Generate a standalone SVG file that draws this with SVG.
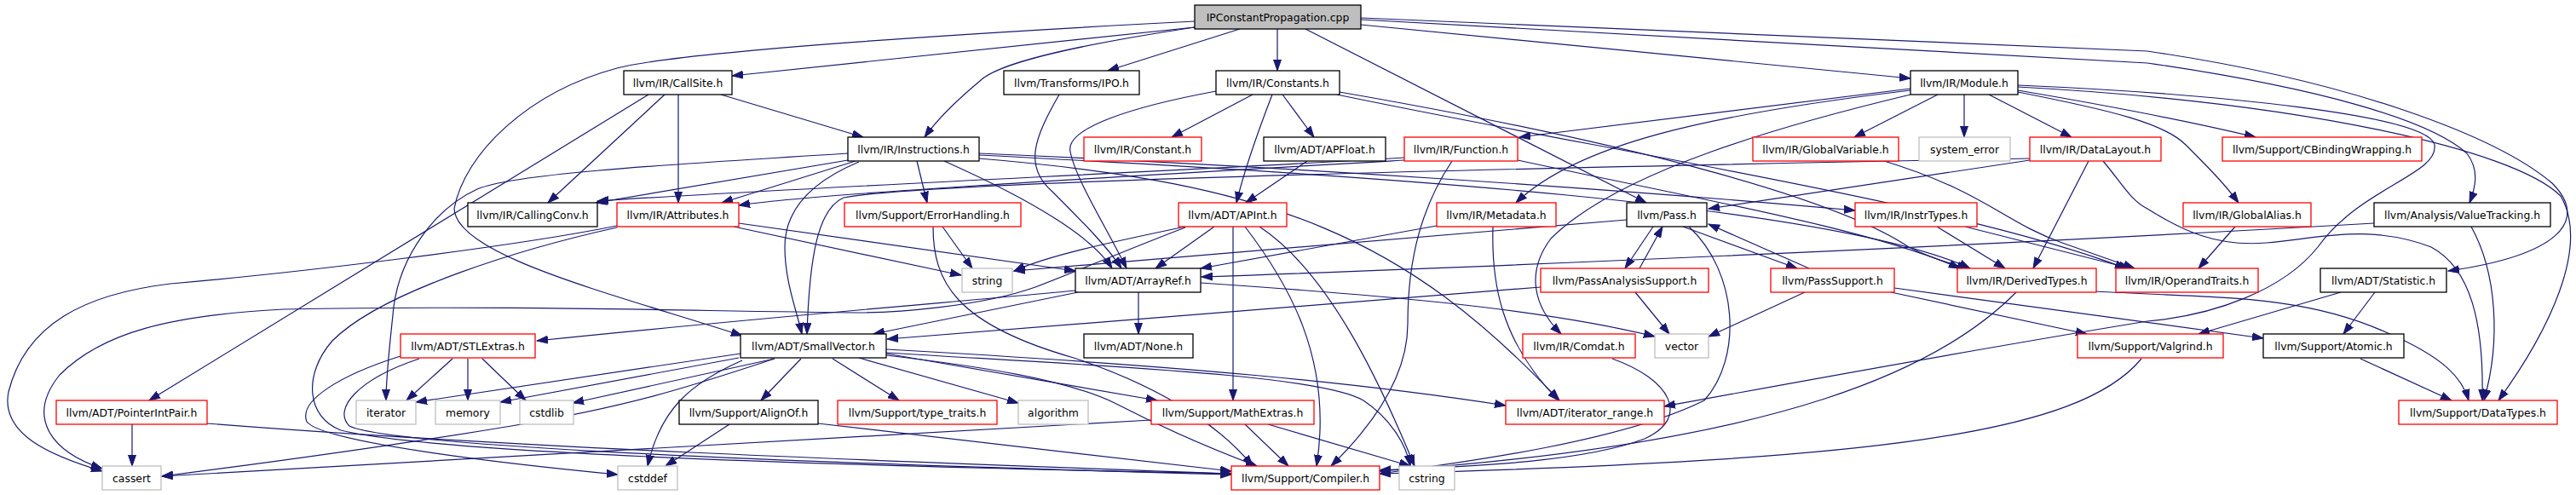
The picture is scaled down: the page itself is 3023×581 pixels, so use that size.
<svg xmlns="http://www.w3.org/2000/svg" width="3023" height="581" viewBox="0 0 3023 581">
<defs>
<marker id="ah" markerWidth="14" markerHeight="10" refX="13" refY="5" orient="auto" markerUnits="userSpaceOnUse"><path d="M0,0.5 L13,5 L0,9.5 z" fill="#191970" stroke="#191970" stroke-width="1"/></marker>
<style>
.node rect{fill:#ffffff;stroke-width:1.3}
.blk rect{stroke:#000000}
.red rect{stroke:#ff0000}
.sys rect{stroke:#bfbfbf}
.root rect{fill:#bfbfbf;stroke:#000000}
.node text{font-family:"DejaVu Sans",sans-serif;font-size:12.4px;fill:#000000;text-anchor:middle}
#edges path{fill:none;stroke:#191970;stroke-width:1.2;marker-end:url(#ah)}
</style>
</defs>
<rect width="3023" height="581" fill="#ffffff"/>
<g id="edges">
<path d="M1402,32 L859,89"/>
<path d="M1402,25 C1150,38 800,60 724,80 C620,108 545,180 533,245 C535,300 720,345 871,394"/>
<path d="M1402,32 C1250,55 1170,75 1150,95 C1120,120 1100,140 1085,161"/>
<path d="M1455,34 L1300,83"/>
<path d="M1499,34 L1499,83"/>
<path d="M1532,34 L1932,238"/>
<path d="M1597,29 L2242,92"/>
<path d="M1597,21 L2520,60 C2760,95 2930,160 2995,215 C3040,260 3000,300 2873,318"/>
<path d="M1597,23 L2520,74 C2720,103 2850,140 2895,180 C2910,200 2905,220 2898,238"/>
<path d="M780,111 L643,238"/>
<path d="M796,111 L796,238"/>
<path d="M846,111 L1013,161"/>
<path d="M761,111 L175,470"/>
<path d="M1243,111 C1215,160 1200,195 1235,225 C1270,260 1300,290 1316,315"/>
<path d="M1470,111 L1375,161"/>
<path d="M1505,111 L1542,161"/>
<path d="M1493,111 C1478,150 1460,200 1451,238"/>
<path d="M1427,107 C1330,125 1250,150 1256,178 C1262,210 1300,270 1322,315"/>
<path d="M1572,108 C1900,165 2150,230 2240,290 C2270,305 2295,311 2310,315"/>
<path d="M1569,111 C1900,180 2300,240 2495,315"/>
<path d="M1534,189 L1462,238"/>
<path d="M2242,104 L1783,161"/>
<path d="M2242,106 C2000,135 1850,170 1779,238"/>
<path d="M2242,111 C2100,145 1900,200 1820,280 C1790,320 1800,360 1832,392"/>
<path d="M2274,111 L2176,161"/>
<path d="M2305,111 L2305,161"/>
<path d="M2334,111 L2431,161"/>
<path d="M2368,106 C2480,125 2580,145 2647,161"/>
<path d="M2368,108 C2480,130 2540,145 2565,170 C2590,195 2610,215 2627,238"/>
<path d="M2368,100 C2600,110 2850,135 2857,170 C2862,205 2770,220 2720,290 C2680,340 2600,370 2520,377 C2300,413 2100,450 1953,477"/>
<path d="M2368,102 C2700,120 2950,175 3005,230 C3040,290 2990,390 2932,470"/>
<path d="M995,180 C750,195 600,205 560,222 C510,245 470,300 462,360 C458,400 453,440 453,470"/>
<path d="M995,188 L699,238"/>
<path d="M1004,189 L847,238"/>
<path d="M1008,190 C960,210 921,240 921,290 C921,330 935,365 941,392"/>
<path d="M1076,189 L1088,238"/>
<path d="M1108,189 C1200,230 1280,275 1305,315"/>
<path d="M1149,180 C1500,195 1900,222 2177,247"/>
<path d="M1149,182 C1600,205 2150,240 2312,315"/>
<path d="M1149,186 C1500,215 1650,280 1830,470"/>
<path d="M1648,185 C1400,200 900,222 701,236"/>
<path d="M1648,188 C1300,208 950,228 867,241"/>
<path d="M1704,189 C1670,240 1652,300 1652,380 C1652,450 1600,510 1562,547"/>
<path d="M1781,188 C2000,235 2200,270 2300,315"/>
<path d="M2382,188 L2005,245"/>
<path d="M2382,186 C2000,193 1100,210 990,232 C960,245 950,300 947,392"/>
<path d="M2451,189 L2386,315"/>
<path d="M2468,189 C2490,215 2500,235 2520,245 C2560,270 2600,290 2660,285 C2720,280 2780,262 2853,290 C2900,315 2915,380 2913,470"/>
<path d="M2208,188 C2330,225 2350,260 2420,285 L2505,315"/>
<path d="M2273,266 L2353,315"/>
<path d="M2306,266 L2500,315"/>
<path d="M2623,266 L2580,315"/>
<path d="M1909,258 L1190,318"/>
<path d="M1940,266 L1907,315"/>
<path d="M1975,266 L2109,315"/>
<path d="M1982,266 C2040,320 2045,420 2000,470 C1900,520 1700,545 1619,556"/>
<path d="M1924,315 L1951,266"/>
<path d="M1919,343 L1959,392"/>
<path d="M1808,337 L1041,398"/>
<path d="M2123,315 L2005,263"/>
<path d="M2118,343 L2005,395"/>
<path d="M2219,343 L2449,392"/>
<path d="M2223,338 L2656,397"/>
<path d="M1686,265 L1409,315"/>
<path d="M1752,266 C1750,330 1760,400 1829,470"/>
<path d="M1892,421 C1960,445 1985,490 1930,515 C1850,545 1700,548 1619,552"/>
<path d="M2786,262 C2300,290 1700,315 1410,325"/>
<path d="M2900,266 C2930,320 2935,400 2915,470"/>
<path d="M2747,343 L2580,392"/>
<path d="M2787,343 L2750,392"/>
<path d="M2770,421 L2877,470"/>
<path d="M2513,421 C2440,510 2200,540 1619,556"/>
<path d="M2366,343 C2280,430 2100,520 1619,553"/>
<path d="M2459,342 C2600,350 2700,345 2800,390 C2870,420 2890,445 2897,470"/>
<path d="M1336,343 L1336,392"/>
<path d="M1265,343 L1025,392"/>
<path d="M1262,341 C1150,352 900,372 630,400"/>
<path d="M1409,332 C1600,345 1800,360 1942,395"/>
<path d="M1391,266 C1300,285 1230,300 1190,318"/>
<path d="M1391,267 C1330,290 1260,320 1215,337 C1150,360 1050,367 1008,367 C800,365 600,358 333,363 C200,370 120,390 70,440 C30,490 60,530 120,550"/>
<path d="M1425,266 L1356,315"/>
<path d="M1447,266 L1447,470"/>
<path d="M1461,266 C1510,330 1565,420 1545,547"/>
<path d="M1478,266 C1560,320 1620,450 1660,547"/>
<path d="M1106,266 L1141,315"/>
<path d="M1095,266 C1095,330 1120,380 1260,420 C1380,460 1440,510 1470,547"/>
<path d="M861,266 L1128,323"/>
<path d="M867,262 L1262,318"/>
<path d="M724,265 C600,290 350,320 200,333 C100,345 30,380 10,460 C0,510 60,535 120,553"/>
<path d="M724,267 C620,290 450,340 390,400 C355,440 360,490 400,505 C500,530 900,545 1445,556"/>
<path d="M869,415 L488,472"/>
<path d="M867,420 L587,472"/>
<path d="M909,421 L672,473"/>
<path d="M871,423 C810,450 775,480 760,547"/>
<path d="M940,421 L893,470"/>
<path d="M977,421 L1055,470"/>
<path d="M1008,420 L1195,473"/>
<path d="M1040,415 L1358,470"/>
<path d="M1040,417 C1150,430 1250,445 1308,473 C1370,505 1430,530 1475,547"/>
<path d="M1040,414 C1300,430 1550,440 1600,470 C1630,490 1650,520 1655,547"/>
<path d="M1040,410 C1400,430 1600,450 1767,476"/>
<path d="M909,421 C820,450 750,475 600,500 C450,525 300,545 190,559"/>
<path d="M1461,498 L1512,547"/>
<path d="M1351,493 L190,559"/>
<path d="M1488,498 L1655,547"/>
<path d="M856,498 L781,547"/>
<path d="M960,497 L1445,553"/>
<path d="M155,498 L155,547"/>
<path d="M243,497 C600,525 1000,540 1445,556"/>
<path d="M531,421 L477,470"/>
<path d="M549,421 L549,470"/>
<path d="M566,421 L617,470"/>
<path d="M470,418 C400,440 350,470 360,495 C380,520 600,545 725,557"/>
<path d="M492,421 C420,445 390,480 410,500 C450,520 800,540 1445,557"/>
</g>
<g id="n_cpp" class="node root"><rect x="1402" y="6" width="195" height="28"/><text x="1499.5" y="24.5">IPConstantPropagation.cpp</text></g>
<g id="n_callsite" class="node blk"><rect x="732" y="83" width="127" height="28"/><text x="795.5" y="101.5">llvm/IR/CallSite.h</text></g>
<g id="n_ipo" class="node blk"><rect x="1178" y="83" width="159" height="28"/><text x="1257.5" y="101.5">llvm/Transforms/IPO.h</text></g>
<g id="n_constants" class="node blk"><rect x="1427" y="83" width="145" height="28"/><text x="1499.5" y="101.5">llvm/IR/Constants.h</text></g>
<g id="n_module" class="node blk"><rect x="2242" y="83" width="126" height="28"/><text x="2305" y="101.5">llvm/IR/Module.h</text></g>
<g id="n_instructions" class="node blk"><rect x="995" y="161" width="154" height="28"/><text x="1072" y="179.5">llvm/IR/Instructions.h</text></g>
<g id="n_constant" class="node red"><rect x="1272" y="161" width="138" height="28"/><text x="1341" y="179.5">llvm/IR/Constant.h</text></g>
<g id="n_apfloat" class="node blk"><rect x="1483" y="161" width="143" height="28"/><text x="1554.5" y="179.5">llvm/ADT/APFloat.h</text></g>
<g id="n_function" class="node red"><rect x="1648" y="161" width="133" height="28"/><text x="1714.5" y="179.5">llvm/IR/Function.h</text></g>
<g id="n_globalvariable" class="node red"><rect x="2057" y="161" width="171" height="28"/><text x="2142.5" y="179.5">llvm/IR/GlobalVariable.h</text></g>
<g id="n_system_error" class="node sys"><rect x="2252" y="161" width="107" height="28"/><text x="2305.5" y="179.5">system_error</text></g>
<g id="n_datalayout" class="node red"><rect x="2382" y="161" width="154" height="28"/><text x="2459" y="179.5">llvm/IR/DataLayout.h</text></g>
<g id="n_cbinding" class="node red"><rect x="2608" y="161" width="234" height="28"/><text x="2725" y="179.5">llvm/Support/CBindingWrapping.h</text></g>
<g id="n_callingconv" class="node blk"><rect x="549" y="238" width="152" height="28"/><text x="625" y="256.5">llvm/IR/CallingConv.h</text></g>
<g id="n_attributes" class="node red"><rect x="724" y="238" width="143" height="28"/><text x="795.5" y="256.5">llvm/IR/Attributes.h</text></g>
<g id="n_errorhandling" class="node red"><rect x="991" y="238" width="207" height="28"/><text x="1094.5" y="256.5">llvm/Support/ErrorHandling.h</text></g>
<g id="n_apint" class="node red"><rect x="1383" y="238" width="127" height="28"/><text x="1446.5" y="256.5">llvm/ADT/APInt.h</text></g>
<g id="n_metadata" class="node red"><rect x="1686" y="238" width="140" height="28"/><text x="1756" y="256.5">llvm/IR/Metadata.h</text></g>
<g id="n_pass" class="node blk"><rect x="1909" y="238" width="94" height="28"/><text x="1956" y="256.5">llvm/Pass.h</text></g>
<g id="n_instrtypes" class="node red"><rect x="2177" y="238" width="143" height="28"/><text x="2248.5" y="256.5">llvm/IR/InstrTypes.h</text></g>
<g id="n_globalalias" class="node red"><rect x="2562" y="238" width="150" height="28"/><text x="2637" y="256.5">llvm/IR/GlobalAlias.h</text></g>
<g id="n_valuetracking" class="node blk"><rect x="2786" y="238" width="207" height="28"/><text x="2889.5" y="256.5">llvm/Analysis/ValueTracking.h</text></g>
<g id="n_string" class="node sys"><rect x="1129" y="315" width="59" height="28"/><text x="1158.5" y="333.5">string</text></g>
<g id="n_arrayref" class="node blk"><rect x="1262" y="315" width="147" height="28"/><text x="1335.5" y="333.5">llvm/ADT/ArrayRef.h</text></g>
<g id="n_passanalysis" class="node red"><rect x="1808" y="315" width="197" height="28"/><text x="1906.5" y="333.5">llvm/PassAnalysisSupport.h</text></g>
<g id="n_passsupport" class="node red"><rect x="2078" y="315" width="145" height="28"/><text x="2150.5" y="333.5">llvm/PassSupport.h</text></g>
<g id="n_derivedtypes" class="node red"><rect x="2297" y="315" width="163" height="28"/><text x="2378.5" y="333.5">llvm/IR/DerivedTypes.h</text></g>
<g id="n_operandtraits" class="node red"><rect x="2483" y="315" width="167" height="28"/><text x="2566.5" y="333.5">llvm/IR/OperandTraits.h</text></g>
<g id="n_statistic" class="node blk"><rect x="2723" y="315" width="148" height="28"/><text x="2797" y="333.5">llvm/ADT/Statistic.h</text></g>
<g id="n_stlextras" class="node red"><rect x="470" y="392" width="158" height="28"/><text x="549" y="410.5">llvm/ADT/STLExtras.h</text></g>
<g id="n_smallvector" class="node blk"><rect x="869" y="392" width="171" height="28"/><text x="954.5" y="410.5">llvm/ADT/SmallVector.h</text></g>
<g id="n_none" class="node blk"><rect x="1272" y="392" width="128" height="28"/><text x="1336" y="410.5">llvm/ADT/None.h</text></g>
<g id="n_comdat" class="node red"><rect x="1787" y="392" width="132" height="28"/><text x="1853" y="410.5">llvm/IR/Comdat.h</text></g>
<g id="n_vector" class="node sys"><rect x="1942" y="392" width="63" height="28"/><text x="1973.5" y="410.5">vector</text></g>
<g id="n_valgrind" class="node red"><rect x="2438" y="392" width="171" height="28"/><text x="2523.5" y="410.5">llvm/Support/Valgrind.h</text></g>
<g id="n_atomic" class="node blk"><rect x="2656" y="392" width="165" height="28"/><text x="2738.5" y="410.5">llvm/Support/Atomic.h</text></g>
<g id="n_pointerintpair" class="node red"><rect x="66" y="470" width="177" height="28"/><text x="154.5" y="488.5">llvm/ADT/PointerIntPair.h</text></g>
<g id="n_iterator" class="node sys"><rect x="418" y="470" width="70" height="28"/><text x="453" y="488.5">iterator</text></g>
<g id="n_memory" class="node sys"><rect x="511" y="470" width="76" height="28"/><text x="549" y="488.5">memory</text></g>
<g id="n_cstdlib" class="node sys"><rect x="610" y="470" width="63" height="28"/><text x="641.5" y="488.5">cstdlib</text></g>
<g id="n_alignof" class="node blk"><rect x="797" y="470" width="163" height="28"/><text x="878.5" y="488.5">llvm/Support/AlignOf.h</text></g>
<g id="n_typetraits" class="node red"><rect x="983" y="470" width="187" height="28"/><text x="1076.5" y="488.5">llvm/Support/type_traits.h</text></g>
<g id="n_algorithm" class="node sys"><rect x="1195" y="470" width="82" height="28"/><text x="1236" y="488.5">algorithm</text></g>
<g id="n_mathextras" class="node red"><rect x="1351" y="470" width="191" height="28"/><text x="1446.5" y="488.5">llvm/Support/MathExtras.h</text></g>
<g id="n_iteratorrange" class="node red"><rect x="1767" y="470" width="186" height="28"/><text x="1860" y="488.5">llvm/ADT/iterator_range.h</text></g>
<g id="n_datatypes" class="node red"><rect x="2815" y="470" width="186" height="28"/><text x="2908" y="488.5">llvm/Support/DataTypes.h</text></g>
<g id="n_cassert" class="node sys"><rect x="120" y="547" width="69" height="28"/><text x="154.5" y="565.5">cassert</text></g>
<g id="n_cstddef" class="node sys"><rect x="725" y="547" width="70" height="28"/><text x="760" y="565.5">cstddef</text></g>
<g id="n_compiler" class="node red"><rect x="1445" y="547" width="174" height="28"/><text x="1532" y="565.5">llvm/Support/Compiler.h</text></g>
<g id="n_cstring" class="node sys"><rect x="1642" y="547" width="65" height="28"/><text x="1674.5" y="565.5">cstring</text></g>
</svg>
